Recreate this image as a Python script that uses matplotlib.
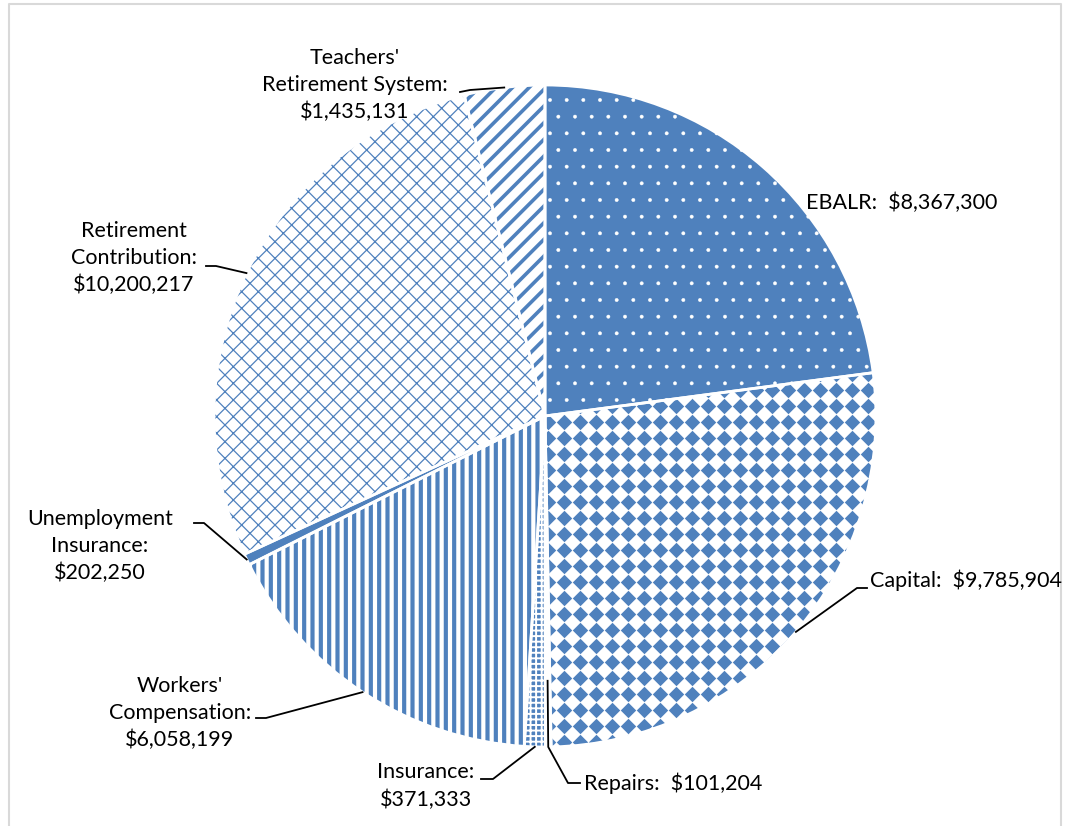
import numpy as np
import matplotlib.pyplot as plt

plt.rcParams['font.family'] = ['Lato', 'DejaVu Sans']

# data (clockwise from 12 o'clock)
names = ["EBALR", "Capital", "Repairs", "Insurance", "Workers'\nCompensation",
         "Unemployment\nInsurance", "Retirement\nContribution", "Teachers'\nRetirement System"]
values = [8367300, 9785904, 101204, 371333, 6058199, 202250, 10200217, 1435131]
one_line = [True, True, True, False, False, False, False, False]

blue = '#4F81BD'
W, H = 1068, 826
cx, cy, R = 545, H - 416, 331

# label layout: text anchor (x, y from top), alignment, leader points (from top)
# leader goes wedge edge -> elbow -> end; None = no leader
layout = [
    dict(xy=(806, 203), ha='left', leader=None),
    dict(xy=(870, 580), ha='left', leader=[(857, 588), (867, 588)]),
    dict(xy=(584, 783), ha='left', leader=[(568, 783), (580, 783)]),
    dict(xy=(426, 786), ha='center', leader=[(493, 779), (481, 779)]),
    dict(xy=(180, 713), ha='center', leader=[(266, 718), (256, 718)]),
    dict(xy=(100, 546), ha='center', leader=[(204, 523), (194, 523)]),
    dict(xy=(134, 258), ha='center', leader=[(216, 266), (206, 266)]),
    dict(xy=(355, 85), ha='center', leader=[(470, 90), (460, 92)]),
]

# fill styles: face, hatch colour, hatch, hatch width
styles = [
    (blue, 'white', '.', 0.3),
    ('white', blue, None, 1.0),
    ('white', 'white', None, 1.0),
    (blue, 'white', '+++', 1.4),
    ('white', blue, '||', 3.0),
    (blue, blue, None, 1.0),
    ('white', blue, 'xx', 0.9),
    ('white', blue, '//', 2.6),
]

fig = plt.figure(figsize=(W / 100, H / 100), dpi=100)
ax = fig.add_axes([0, 0, 1, 1])

wedges, _ = ax.pie(values, startangle=90, counterclock=False,
                   center=(cx, cy), radius=R, wedgeprops=dict(linewidth=0))
for w, (fc, hc, hatch, hlw) in zip(wedges, styles):
    w.set_facecolor(fc)
    w.set_edgecolor(hc)
    w.set_linewidth(0)
    if hatch:
        w.set_hatch(hatch)
        if hasattr(w, 'set_hatch_linewidth'):
            w.set_hatch_linewidth(hlw)

# diamond texture for Capital
gx, gy = np.meshgrid(np.arange(0, W, 16) + 4, np.arange(0, H, 16) + 4)
dia = ax.scatter(gx.ravel(), gy.ravel(), marker='D', s=62, color=blue, linewidths=0)
dia.set_clip_path(wedges[1])

# white borders between slices
ax.pie(values, startangle=90, counterclock=False, center=(cx, cy), radius=R,
       wedgeprops=dict(fill=False, edgecolor='white', linewidth=2))

ax.set_xlim(0, W)
ax.set_ylim(0, H)
ax.axis('off')

for i, (w, lay) in enumerate(zip(wedges, layout)):
    sep = "  " if one_line[i] else "\n"
    txt = f"{names[i]}:{sep}${values[i]:,}"
    x, y = lay['xy']
    ax.text(x, H - y, txt, ha=lay['ha'], va='center', multialignment='center',
            fontsize=15.5, linespacing=1.42, color='black')
    if lay['leader']:
        mid = np.deg2rad((w.theta1 + w.theta2) / 2)
        px = [cx + R * np.cos(mid)]
        py = [cy + R * np.sin(mid)]
        if i == 2:
            px.insert(0, cx + 0.8 * R * np.cos(mid))
            py.insert(0, cy + 0.8 * R * np.sin(mid))
        for lx, ly in lay['leader']:
            px.append(lx)
            py.append(H - ly)
        ax.plot(px, py, color='black', linewidth=1.3, clip_on=False)

# light grey frame
ax.plot([9, 9, 1061, 1061], [0, H - 4, H - 4, 0], color='#D9D9D9', linewidth=1.5)

fig.savefig('out.png', dpi=100)
